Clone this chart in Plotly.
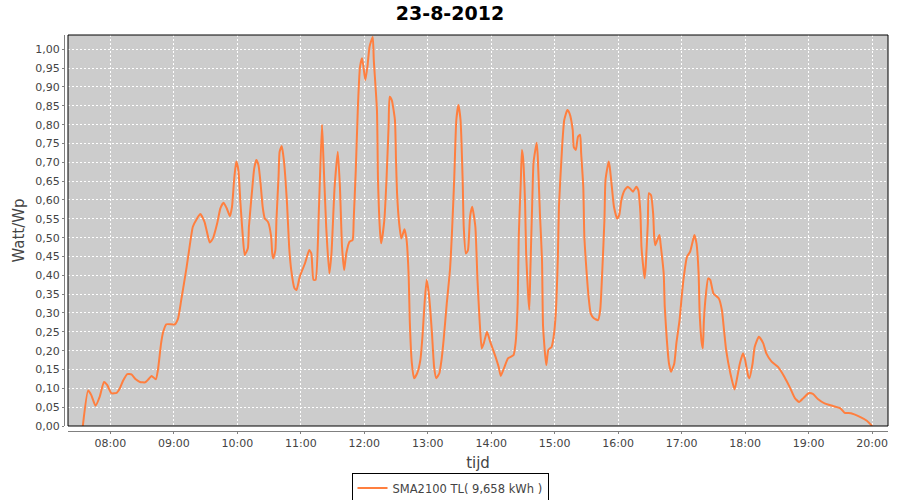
import plotly.graph_objects as go

DAY = "2012-08-23"
TITLE = "23-8-2012"
SERIES_NAME = "SMA2100 TL( 9,658 kWh )"
X_TITLE = "tijd"
Y_TITLE = "Watt/Wp"

times = [
    "07:34", "07:39", "07:42", "07:46", "07:50", "07:54", "07:57", "08:01", "08:06", "08:09",
    "08:12", "08:16", "08:20", "08:24", "08:28", "08:33", "08:36", "08:39", "08:43", "08:45",
    "08:48", "08:50", "08:53", "09:01", "09:04", "09:07", "09:12", "09:14", "09:18", "09:22",
    "09:25", "09:29", "09:32", "09:34", "09:37", "09:41", "09:44", "09:47", "09:50", "09:53",
    "09:55", "09:57", "09:59", "10:01", "10:03", "10:05", "10:07", "10:10", "10:11", "10:14",
    "10:16", "10:18", "10:20", "10:22", "10:24", "10:26", "10:29", "10:32", "10:33", "10:34",
    "10:36", "10:37", "10:39", "10:40", "10:42", "10:44", "10:47", "10:49", "10:51", "10:54",
    "10:56", "10:59", "11:04", "11:08", "11:10", "11:12", "11:14", "11:17", "11:20", "11:21",
    "11:24", "11:27", "11:29", "11:32", "11:35", "11:37", "11:39", "11:41", "11:43", "11:46",
    "11:49", "11:50", "11:52", "11:54", "11:56", "11:58", "12:01", "12:03", "12:05", "12:08",
    "12:09", "12:12", "12:13", "12:15", "12:16", "12:19", "12:21", "12:23", "12:24", "12:26",
    "12:29", "12:30", "12:31", "12:33", "12:35", "12:38", "12:40", "12:42", "12:43", "12:45",
    "12:47", "12:50", "12:53", "12:55", "12:57", "12:59", "13:01", "13:04", "13:06", "13:08",
    "13:11", "13:13", "13:15", "13:18", "13:21", "13:23", "13:25", "13:27", "13:29", "13:31",
    "13:33", "13:34", "13:36", "13:38", "13:40", "13:42", "13:45", "13:47", "13:49", "13:51",
    "13:53", "13:56", "13:59", "14:04", "14:07", "14:09", "14:12", "14:16", "14:21", "14:23",
    "14:25", "14:26", "14:28", "14:29", "14:30", "14:32", "14:33", "14:35", "14:36", "14:37",
    "14:39", "14:40", "14:43", "14:44", "14:46", "14:48", "14:49", "14:52", "14:54", "14:57",
    "14:59", "15:01", "15:03", "15:04", "15:07", "15:09", "15:12", "15:14", "15:17", "15:18",
    "15:20", "15:22", "15:24", "15:25", "15:27", "15:28", "15:30", "15:32", "15:34", "15:37",
    "15:41", "15:43", "15:45", "15:47", "15:48", "15:51", "15:52", "15:54", "15:56", "15:59",
    "16:01", "16:03", "16:06", "16:09", "16:11", "16:14", "16:17", "16:19", "16:21", "16:22",
    "16:24", "16:25", "16:26", "16:28", "16:29", "16:31", "16:33", "16:34", "16:35", "16:37",
    "16:39", "16:40", "16:43", "16:44", "16:46", "16:48", "16:50", "16:53", "16:55", "16:58",
    "17:00", "17:02", "17:05", "17:08", "17:10", "17:12", "17:14", "17:16", "17:17", "17:19",
    "17:20", "17:21", "17:23", "17:25", "17:27", "17:30", "17:35", "17:38", "17:40", "17:42",
    "17:46", "17:50", "17:52", "17:55", "17:58", "18:00", "18:03", "18:04", "18:07", "18:09",
    "18:13", "18:17", "18:20", "18:25", "18:31", "18:37", "18:42", "18:47", "18:51", "18:55",
    "19:00", "19:04", "19:09", "19:15", "19:23", "19:30", "19:34", "19:40", "19:48", "19:55",
    "20:00",
]

watt_per_wp = [
    0.000, 0.094, 0.082, 0.054, 0.078, 0.117, 0.109, 0.087, 0.088, 0.100,
    0.120, 0.138, 0.137, 0.124, 0.117, 0.116, 0.124, 0.133, 0.124, 0.149,
    0.220, 0.250, 0.270, 0.270, 0.285, 0.334, 0.420, 0.458, 0.529, 0.551,
    0.563, 0.542, 0.507, 0.487, 0.498, 0.538, 0.578, 0.593, 0.578, 0.557,
    0.582, 0.653, 0.702, 0.680, 0.591, 0.512, 0.454, 0.472, 0.529, 0.626,
    0.684, 0.706, 0.693, 0.644, 0.582, 0.551, 0.542, 0.503, 0.458, 0.445,
    0.467, 0.547, 0.662, 0.728, 0.743, 0.706, 0.591, 0.476, 0.414, 0.366,
    0.361, 0.396, 0.432, 0.467, 0.458, 0.388, 0.388, 0.565, 0.800, 0.740,
    0.530, 0.405, 0.458, 0.635, 0.728, 0.635, 0.476, 0.414, 0.458, 0.489,
    0.494, 0.547, 0.680, 0.848, 0.954, 0.976, 0.918, 0.954, 1.007, 1.033,
    0.972, 0.839, 0.653, 0.512, 0.485, 0.547, 0.653, 0.795, 0.874, 0.865,
    0.812, 0.706, 0.618, 0.538, 0.498, 0.522, 0.494, 0.396, 0.281, 0.166,
    0.127, 0.140, 0.175, 0.237, 0.326, 0.388, 0.352, 0.246, 0.157, 0.127,
    0.140, 0.175, 0.228, 0.326, 0.414, 0.520, 0.653, 0.812, 0.852, 0.812,
    0.653, 0.529, 0.458, 0.467, 0.556, 0.582, 0.529, 0.388, 0.281, 0.206,
    0.220, 0.250, 0.224, 0.184, 0.157, 0.133, 0.153, 0.180, 0.188, 0.220,
    0.326, 0.503, 0.653, 0.733, 0.715, 0.591, 0.458, 0.343, 0.308, 0.414,
    0.618, 0.700, 0.752, 0.715, 0.565, 0.441, 0.264, 0.162, 0.202, 0.210,
    0.237, 0.299, 0.450, 0.582, 0.741, 0.812, 0.839, 0.830, 0.786, 0.741,
    0.733, 0.768, 0.773, 0.724, 0.635, 0.503, 0.414, 0.343, 0.299, 0.286,
    0.281, 0.308, 0.414, 0.547, 0.653, 0.702, 0.688, 0.635, 0.582, 0.551,
    0.560, 0.600, 0.626, 0.635, 0.631, 0.622, 0.635, 0.626, 0.565, 0.476,
    0.414, 0.392, 0.423, 0.538, 0.618, 0.613, 0.565, 0.503, 0.480, 0.494,
    0.507, 0.485, 0.405, 0.317, 0.228, 0.166, 0.144, 0.166, 0.220, 0.281,
    0.343, 0.396, 0.449, 0.463, 0.485, 0.507, 0.485, 0.405, 0.299, 0.220,
    0.206, 0.281, 0.352, 0.392, 0.388, 0.352, 0.339, 0.308, 0.255, 0.202,
    0.140, 0.097, 0.122, 0.166, 0.193, 0.175, 0.131, 0.127, 0.166, 0.210,
    0.237, 0.220, 0.193, 0.171, 0.157, 0.131, 0.104, 0.074, 0.064, 0.074,
    0.087, 0.085, 0.071, 0.060, 0.053, 0.047, 0.035, 0.034, 0.025, 0.014,
    0.000,
]

x_range = ["07:20", "20:15"]
y_range = [0, 1.038]

x_vals = [f"{DAY} {t}" for t in times]

FONT = "DejaVu Sans"
TXT = "#444444"
AX = "#808080"
W, H = 900, 500
ml, mr, mt, mb = 64, 12, 35, 69
pw = W - ml - mr
ph = H - mt - mb

fig = go.Figure()
fig.add_trace(go.Scatter(
    x=x_vals, y=watt_per_wp, mode="lines", name=SERIES_NAME,
    line=dict(color="#FF7F3F", width=2, shape="spline", smoothing=0.5),
    showlegend=True,
))

fig.update_layout(
    width=W, height=H,
    margin=dict(l=ml, r=mr, t=mt, b=mb, autoexpand=False),
    paper_bgcolor="white",
    plot_bgcolor="#CCCCCC",
    separators=",.",
    font=dict(family=FONT, size=11, color=TXT),
    title=dict(text=f"<b>{TITLE}</b>", x=0.5, xref="container", xanchor="center",
               y=1 - 13 / H, yref="container", yanchor="middle",
               font=dict(family=FONT, size=19, color="black")),
    showlegend=True,
    legend=dict(orientation="h", xref="container", yref="container",
                x=0.5, xanchor="center", y=12 / H, yanchor="middle",
                bgcolor="white", bordercolor="black", borderwidth=1,
                font=dict(family=FONT, size=11.5, color=TXT),
                itemwidth=30, tracegroupgap=0),
    xaxis=dict(
        type="date", range=[f"{DAY} {x_range[0]}", f"{DAY} {x_range[1]}"],
        domain=[4 / pw, 1], anchor="free", position=0,
        tickformat="%H:%M", dtick=3600000, tick0=f"{DAY} 08:00",
        showgrid=True, gridcolor="white", griddash="2px,2px", gridwidth=1,
        showline=True, linecolor=AX, linewidth=1,
        ticks="outside", ticklen=2, tickcolor=AX,
        tickfont=dict(family=FONT, size=11, color=TXT),
        title=dict(text=X_TITLE, font=dict(family=FONT, size=15, color=TXT), standoff=10),
        zeroline=False, fixedrange=True, automargin=False,
    ),
    yaxis=dict(
        range=y_range, domain=[5 / ph, 1], anchor="free", position=0,
        dtick=0.05, tick0=0, tickformat=".2f",
        showgrid=True, gridcolor="white", griddash="2px,2px", gridwidth=1,
        showline=True, linecolor=AX, linewidth=1,
        ticks="outside", ticklen=2, tickcolor=AX,
        tickfont=dict(family=FONT, size=11, color=TXT),
        title=dict(text=Y_TITLE, font=dict(family=FONT, size=15, color=TXT), standoff=6),
        zeroline=False, fixedrange=True, automargin=False,
    ),
    shapes=[dict(type="rect", xref="x domain", yref="y domain", x0=0, x1=1, y0=0, y1=1,
                 line=dict(color="black", width=1), layer="above")],
)

fig.write_html("out.html", config={"displayModeBar": False},
               post_script="document.body.style.margin='0';")
